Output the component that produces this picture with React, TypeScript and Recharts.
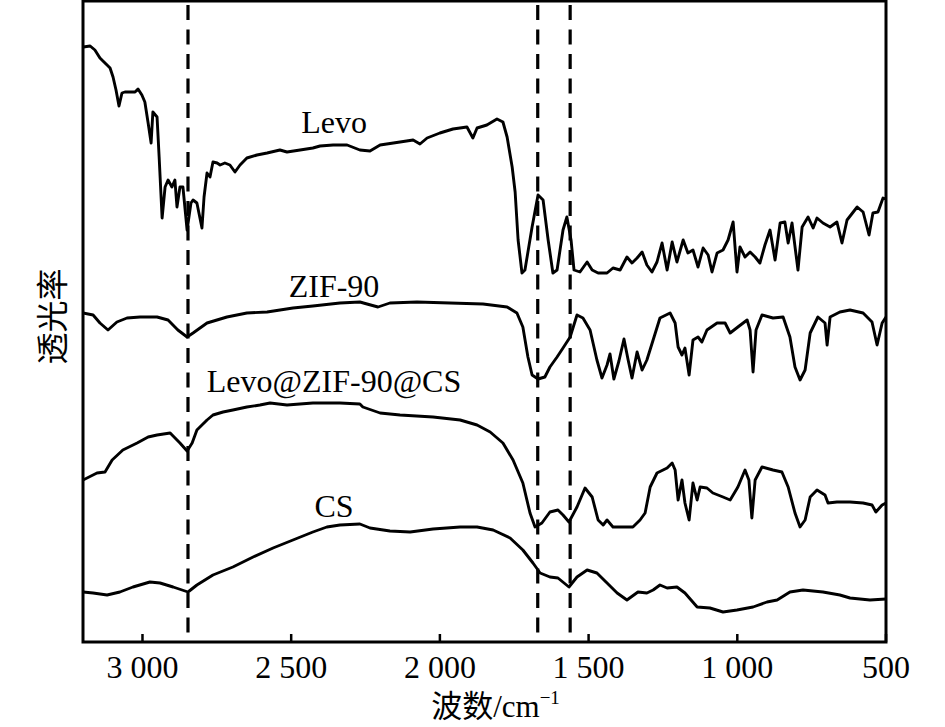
import React from "react";
import {
  LineChart, Line, XAxis, YAxis, Label,
  ReferenceLine, ReferenceArea, ReferenceDot,
} from "recharts";

const SERIF = '"Liberation Serif", "Times New Roman", "Noto Sans CJK SC", serif';
const CJK = '"Noto Sans CJK SC", "Liberation Serif", serif';

// wavenumber axis (cm-1), drawn high -> low
const xDomain: [number, number] = [500, 3200];
const xTicks = [3000, 2500, 2000, 1500, 1000, 500];
const yDomain: [number, number] = [0, 64.1];

// marked bands
const bands = [2847, 1671, 1562];

// [wavenumber, transmittance a.u.]
const levo: [number, number][] = [
  [3199, 59.5], [3176, 59.6], [3160, 59.2], [3143, 58.4], [3126, 57.9], [3109, 57.4],
  [3099, 56.5], [3089, 55.2], [3079, 53.6], [3069, 54.9], [3059, 55.0], [3042, 55.0],
  [3025, 55.0], [3015, 55.3], [3002, 54.7], [2992, 54.0], [2981, 51.9], [2971, 49.9],
  [2965, 53.0], [2951, 52.5], [2944, 48.5], [2934, 42.4], [2924, 45.5], [2914, 46.2],
  [2901, 45.5], [2891, 46.2], [2884, 43.5], [2874, 45.5], [2864, 45.5], [2850, 41.2],
  [2837, 43.9], [2830, 44.2], [2817, 43.9], [2800, 41.4], [2793, 44.5], [2783, 46.9],
  [2773, 46.5], [2763, 48.0], [2749, 47.9], [2739, 47.7], [2723, 47.9], [2706, 47.7],
  [2689, 47.0], [2672, 47.7], [2649, 48.4], [2615, 48.7], [2581, 48.9], [2538, 49.2],
  [2514, 49.0], [2470, 49.2], [2427, 49.4], [2403, 49.6], [2359, 49.7], [2312, 49.7],
  [2269, 49.2], [2235, 49.1], [2201, 49.7], [2134, 50.0], [2090, 50.2], [2067, 49.8],
  [2043, 50.4], [2000, 50.9], [1956, 51.3], [1909, 51.5], [1889, 50.4], [1875, 51.4],
  [1842, 51.7], [1808, 52.3], [1788, 52.0], [1774, 50.5], [1757, 47.5], [1747, 45.0],
  [1737, 40.2], [1724, 36.9],
  [1714, 37.2], [1690, 41.5], [1670, 44.7], [1653, 44.2], [1636, 40.2], [1620, 36.9],
  [1606, 37.2], [1586, 41.2], [1573, 42.5], [1559, 40.2], [1549, 37.2], [1529, 37.0],
  [1505, 38.0], [1488, 37.2], [1468, 36.9], [1438, 36.9], [1418, 37.4], [1394, 37.2],
  [1371, 38.5], [1354, 37.9], [1337, 38.4], [1320, 39.0], [1304, 37.7], [1287, 37.0],
  [1270, 38.0], [1253, 39.9], [1236, 37.2], [1219, 40.0], [1203, 38.0], [1182, 40.2],
  [1166, 38.9], [1149, 39.2], [1132, 37.5], [1115, 39.4], [1098, 38.7], [1085, 37.0],
  [1068, 38.9], [1048, 39.2], [1031, 40.2], [1014, 42.0], [1001, 37.0], [991, 39.5],
  [974, 38.5], [957, 39.0], [940, 38.5], [924, 37.9], [907, 39.7], [890, 41.2],
  [873, 38.2], [856, 41.9], [840, 42.0], [829, 39.9], [816, 41.9], [796, 37.2],
  [782, 41.5], [762, 42.5], [745, 41.4], [732, 42.4], [712, 41.9], [688, 41.5],
  [665, 42.0], [648, 39.9], [631, 42.2], [597, 43.5], [577, 43.0], [557, 40.7],
  [544, 42.9], [527, 43.0], [510, 44.4], [500, 44.3],
];

const zif90: [number, number][] = [
  [3200, 32.9], [3166, 32.7], [3143, 31.9], [3116, 31.2], [3086, 32.0], [3052, 32.4],
  [3008, 32.5], [2951, 32.5], [2914, 32.2], [2881, 31.2], [2850, 30.5], [2830, 30.9],
  [2783, 31.9], [2716, 32.5], [2649, 32.9], [2581, 33.0], [2494, 33.4], [2427, 33.6],
  [2336, 33.9], [2269, 34.0], [2245, 33.8], [2208, 33.5], [2168, 33.9], [2077, 34.0],
  [1966, 33.9], [1855, 33.8], [1774, 33.5], [1741, 32.9], [1721, 31.5], [1704, 28.5],
  [1690, 26.7], [1670, 26.3], [1647, 26.5], [1630, 27.5], [1606, 28.5], [1586, 29.4],
  [1562, 30.5], [1539, 32.7], [1519, 32.4], [1495, 31.2], [1472, 28.2], [1455, 26.4],
  [1438, 27.7], [1428, 28.8], [1415, 26.3], [1398, 28.1], [1381, 30.3], [1367, 28.2],
  [1354, 26.4], [1337, 29.0], [1320, 27.2], [1304, 28.2], [1283, 30.2], [1260, 32.4],
  [1226, 32.9], [1209, 31.9], [1199, 29.5], [1186, 28.7], [1176, 29.4], [1162, 26.7],
  [1149, 30.2], [1132, 30.5], [1119, 30.0], [1102, 31.2], [1068, 31.9], [1041, 31.9],
  [1024, 30.9], [998, 31.5], [967, 32.2], [957, 31.2], [947, 27.0], [937, 31.2],
  [917, 32.7], [880, 32.4], [846, 32.5], [823, 30.5], [806, 27.5], [789, 26.2],
  [772, 27.2], [755, 30.9], [729, 32.5], [705, 31.9], [698, 29.7], [688, 32.5],
  [655, 33.0], [621, 33.2], [577, 32.9], [547, 32.0], [530, 29.7], [513, 31.9],
  [500, 32.5],
];

const levoZifCs: [number, number][] = [
  [3200, 16.2], [3153, 16.9], [3126, 17.0], [3102, 18.2], [3066, 19.2], [3018, 19.9],
  [2981, 20.5], [2951, 20.7], [2907, 20.9], [2874, 19.9], [2850, 19.1], [2833, 19.9],
  [2817, 21.2], [2783, 22.2], [2763, 22.7], [2729, 23.0], [2696, 23.2], [2649, 23.5],
  [2605, 23.7], [2571, 23.9], [2514, 23.7], [2427, 23.9], [2336, 23.9], [2269, 23.8],
  [2259, 23.5], [2201, 22.9], [2134, 22.7], [2023, 22.5], [1932, 22.2], [1875, 21.7],
  [1831, 21.0], [1788, 19.9], [1754, 18.2], [1721, 15.9], [1697, 12.9], [1680, 11.5],
  [1657, 11.9], [1630, 13.0], [1603, 13.2], [1586, 12.7], [1566, 12.0], [1539, 13.5],
  [1512, 15.4], [1488, 14.5], [1468, 12.2], [1451, 11.7], [1438, 12.2], [1418, 11.5],
  [1371, 11.5], [1351, 11.5], [1327, 12.2], [1310, 12.9], [1293, 15.5], [1270, 16.9],
  [1236, 17.4], [1219, 17.9], [1209, 17.2], [1199, 14.2], [1186, 16.2], [1176, 13.9],
  [1162, 12.2], [1149, 15.9], [1135, 14.2], [1125, 15.5], [1102, 15.4], [1082, 14.9],
  [1048, 14.5], [1024, 14.2], [998, 15.5], [974, 17.2], [961, 16.2], [951, 12.4],
  [940, 16.2], [917, 17.5], [880, 17.2], [850, 17.0], [829, 15.5], [806, 12.9],
  [789, 11.5], [772, 12.2], [755, 14.5], [732, 15.2], [705, 14.7], [695, 13.9],
  [665, 14.0], [621, 14.0], [577, 13.9], [547, 13.7], [534, 13.0], [513, 13.7],
  [500, 13.9],
];

const cs: [number, number][] = [
  [3200, 5.0], [3166, 4.9], [3119, 4.7], [3076, 5.0], [3032, 5.5], [2975, 6.0],
  [2941, 5.9], [2897, 5.5], [2847, 5.0], [2817, 5.7], [2763, 6.7], [2696, 7.5],
  [2628, 8.5], [2561, 9.4], [2494, 10.2], [2427, 11.0], [2380, 11.5], [2336, 11.7],
  [2269, 11.8], [2235, 11.4], [2168, 11.1], [2100, 11.0], [2023, 11.3], [1932, 11.5],
  [1875, 11.5], [1821, 11.2], [1764, 10.4], [1721, 9.2], [1687, 7.9], [1663, 6.9],
  [1630, 6.5], [1603, 6.4], [1566, 5.5], [1539, 6.5], [1505, 7.2], [1472, 6.9],
  [1438, 5.9], [1404, 4.9], [1371, 4.2], [1334, 5.0], [1304, 4.9], [1283, 5.2],
  [1260, 5.7], [1236, 5.4], [1203, 5.5], [1176, 4.9], [1135, 3.5], [1092, 3.4],
  [1048, 3.0], [1001, 3.2], [947, 3.5], [900, 4.0], [866, 4.2], [823, 5.0],
  [779, 5.2], [712, 5.0], [655, 4.7], [621, 4.4], [554, 4.2], [500, 4.3],
];

const seriesNames = ["Levo", "ZIF-90", "Levo@ZIF-90@CS", "CS"];
const seriesData = [levo, zif90, levoZifCs, cs];
// label anchor (centre x, baseline) per series
const labelAt: [number, number][] = [[2356, 50.9], [2356, 34.5], [2356, 25.0], [2356, 12.5]];

const toPoints = (arr: [number, number][]) => arr.map(([wn, t]) => ({ wn, t }));

const fmtWave = (v: number) =>
  v >= 1000 ? `${Math.floor(v / 1000)} ${String(v % 1000).padStart(3, "0")}` : String(v);

function WaveTick(props: any) {
  const { x, y, payload } = props;
  return (
    <g>
      <line x1={x} y1={y} x2={x} y2={y - 8} stroke="#000" strokeWidth={2.5} />
      <text x={x} y={y + 36} textAnchor="middle" fontSize={32} fontFamily={SERIF} fill="#000">
        {fmtWave(payload.value)}
      </text>
    </g>
  );
}

function XTitle(props: any) {
  const { viewBox } = props;
  const cx = viewBox.x + viewBox.width / 2 + 11;
  return (
    <text x={cx} y={viewBox.y + 75} textAnchor="middle" fontSize={31} fontFamily={SERIF} fill="#000">
      <tspan fontFamily={CJK}>波数</tspan>
      <tspan>/cm</tspan>
      <tspan dy={-13} fontSize={19}>−1</tspan>
    </text>
  );
}

function YTitle(props: any) {
  const { viewBox } = props;
  const cx = viewBox.x + 33;
  const cy = viewBox.y + viewBox.height / 2 - 5;
  return (
    <text
      x={cx}
      y={cy}
      textAnchor="middle"
      dominantBaseline="central"
      fontSize={32}
      fontFamily={CJK}
      fill="#000"
      transform={`rotate(-90, ${cx}, ${cy})`}
    >
      透光率
    </text>
  );
}

export default function App() {
  return (
    <div style={{ position: "absolute", left: 0, top: 0, width: 945, height: 727, background: "#fff" }}>
      <LineChart width={945} height={727} margin={{ top: 1, right: 59, bottom: 0, left: 17 }}>
        <XAxis
          dataKey="wn"
          type="number"
          domain={xDomain}
          reversed
          ticks={xTicks}
          interval={0}
          allowDataOverflow
          height={85}
          axisLine={false}
          tickLine={false}
          tickSize={0}
          tickMargin={0}
          tick={<WaveTick />}
        >
          <Label content={<XTitle />} />
        </XAxis>
        <YAxis
          type="number"
          domain={yDomain}
          allowDataOverflow
          width={66}
          tick={false}
          tickLine={false}
          axisLine={false}
        >
          <Label content={<YTitle />} />
        </YAxis>

        <ReferenceArea
          x1={xDomain[1]} x2={xDomain[0]} y1={yDomain[0]} y2={yDomain[1]}
          fill="none" stroke="#000" strokeWidth={3} fillOpacity={0}
        />

        {bands.map((b) => (
          <ReferenceLine
            key={b}
            segment={[{ x: b, y: 63.7 }, { x: b, y: 0.9 }]}
            stroke="#000"
            strokeWidth={3.2}
            strokeDasharray="15 9.5"
          />
        ))}

        {seriesData.map((s, i) => (
          <Line
            key={seriesNames[i]}
            data={toPoints(s)}
            dataKey="t"
            type="linear"
            stroke="#000"
            strokeWidth={2.9}
            strokeLinejoin="round"
            dot={false}
            activeDot={false}
            isAnimationActive={false}
          />
        ))}

        {seriesNames.map((name, i) => (
          <ReferenceDot
            key={name}
            x={labelAt[i][0]}
            y={labelAt[i][1]}
            r={1}
            shape={(p: any) => (
              <text x={p.cx} y={p.cy} textAnchor="middle" fontSize={32} fontFamily={SERIF} fill="#000">
                {name}
              </text>
            )}
          />
        ))}
      </LineChart>
    </div>
  );
}
